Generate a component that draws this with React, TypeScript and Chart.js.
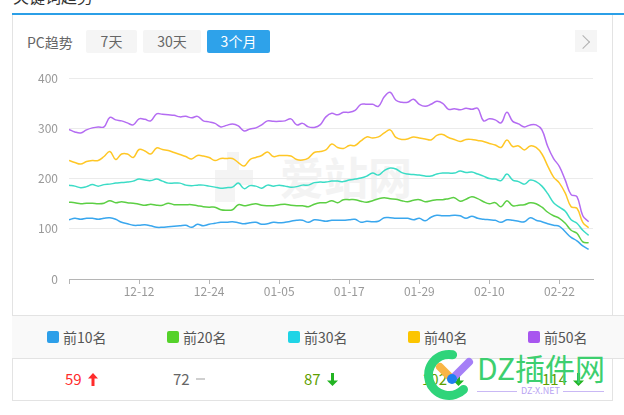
import React, { useEffect, useRef } from 'react';
import { Chart, registerables } from 'chart.js';

Chart.register(...registerables);

const FONT = '"Noto Sans CJK SC", "Noto Sans", sans-serif';

// 90 daily points, 11-30 .. 02-27
const startDate = new Date(2019, 10, 30);
const dates: string[] = [];
for (let i = 0; i < 90; i++) {
  const d = new Date(startDate.getTime());
  d.setDate(d.getDate() + i);
  dates.push(String(d.getMonth() + 1).padStart(2, '0') + '-' + String(d.getDate()).padStart(2, '0'));
}
const tickDates = ['11-30', '12-12', '12-24', '01-05', '01-17', '01-29', '02-10', '02-22'];

const seriesNames = ['前10名', '前20名', '前30名', '前40名', '前50名'];
const legendColors = ['#2d9fe9', '#55d22b', '#1fd4e6', '#fcc500', '#a856ef'];
const lineColors = ['#3aa7ee', '#5ccf44', '#3bdcc6', '#ffc726', '#b46cf2'];

const top10 = [
  118, 121, 119, 121, 121, 119, 121, 122, 119, 113, 110, 107, 107, 108, 106, 103, 103, 104, 105, 106, 107, 103, 109, 106, 109, 111, 113, 113, 114, 112,
  110, 112, 113, 109, 110, 113, 112, 113, 115, 117, 117, 113, 118, 117, 115, 117, 117, 117, 118, 119, 113, 115, 114, 115, 122, 122, 121, 121, 121, 118,
  121, 116, 123, 127, 126, 126, 127, 126, 121, 125, 121, 119, 118, 117, 113, 118, 117, 115, 114, 122, 117, 114, 110, 107, 105, 94, 83, 76, 66, 59,
];
const top20 = [
  153, 152, 150, 151, 151, 150, 151, 156, 152, 154, 152, 151, 149, 147, 149, 147, 147, 151, 148, 148, 148, 148, 146, 144, 143, 143, 138, 137, 138, 148,
  146, 148, 150, 147, 146, 146, 148, 149, 147, 146, 146, 144, 149, 152, 152, 156, 152, 158, 158, 158, 155, 153, 156, 160, 162, 160, 159, 156, 154, 157,
  158, 154, 156, 158, 158, 160, 162, 155, 159, 164, 160, 154, 150, 152, 144, 156, 146, 147, 148, 152, 150, 143, 133, 126, 121, 111, 97, 91, 74, 72,
];
const top30 = [
  187, 185, 182, 184, 188, 185, 188, 189, 191, 192, 193, 195, 199, 197, 196, 199, 195, 191, 191, 191, 187, 186, 187, 187, 185, 183, 181, 182, 183, 191,
  180, 186, 185, 181, 187, 185, 187, 185, 183, 184, 187, 187, 192, 193, 193, 195, 195, 194, 197, 199, 201, 205, 211, 207, 216, 221, 219, 212, 209, 208,
  207, 205, 205, 209, 211, 211, 211, 215, 212, 213, 209, 205, 200, 199, 196, 209, 197, 194, 189, 197, 194, 185, 170, 152, 143, 135, 118, 111, 97, 87,
];
const top40 = [
  236, 232, 229, 234, 236, 236, 244, 254, 238, 249, 249, 242, 258, 255, 249, 261, 258, 256, 252, 248, 244, 239, 246, 245, 242, 236, 240, 240, 240, 232,
  225, 238, 242, 246, 253, 244, 246, 246, 245, 238, 237, 241, 252, 254, 257, 269, 262, 260, 266, 266, 275, 283, 281, 283, 291, 297, 282, 278, 279, 283,
  281, 279, 277, 286, 288, 282, 278, 274, 278, 278, 276, 274, 270, 267, 262, 277, 264, 265, 257, 265, 262, 249, 225, 203, 191, 171, 144, 141, 113, 102,
];
const top50 = [
  298, 293, 291, 297, 301, 303, 303, 322, 317, 315, 311, 307, 319, 318, 315, 329, 328, 327, 326, 323, 324, 321, 324, 315, 313, 310, 303, 306, 309, 305,
  295, 299, 301, 307, 315, 314, 314, 315, 319, 307, 310, 303, 302, 307, 323, 330, 327, 332, 332, 336, 348, 348, 348, 344, 363, 372, 356, 352, 352, 358,
  348, 344, 348, 354, 350, 338, 339, 337, 340, 338, 340, 315, 319, 317, 311, 332, 314, 309, 303, 307, 307, 297, 264, 240, 224, 197, 168, 164, 126, 114,
];
const allSeries = [top10, top20, top30, top40, top50];

// bottom summary row
const summaryValues = ['59', '72', '87', '102', '114'];
const summaryTrend = ['up', 'flat', 'down', 'down', 'down'];

const UpArrow = ({ color }: { color: string }) => (
  <svg width="10" height="13" viewBox="0 0 10 13" style={{ display: 'block' }}>
    <path d="M5 0 L10 5.5 L6.5 5.5 L6.5 13 L3.5 13 L3.5 5.5 L0 5.5 Z" fill={color} />
  </svg>
);
const DownArrow = ({ color }: { color: string }) => (
  <svg width="11" height="13" viewBox="0 0 11 13" style={{ display: 'block' }}>
    <path d="M5.5 13 L11 7.5 L7 7.5 L7 0 L4 0 L4 7.5 L0 7.5 Z" fill={color} />
  </svg>
);

export default function App() {
  const canvasRef = useRef<HTMLCanvasElement | null>(null);

  useEffect(() => {
    document.body.style.margin = '0';
    const ctx = canvasRef.current;
    if (!ctx) return;
    const chart = new Chart(ctx, {
      type: 'line',
      data: {
        datasets: allSeries.map((s, k) => ({
          label: seriesNames[k],
          data: s.map((v, i) => ({ x: i, y: v })),
          borderColor: lineColors[k],
          backgroundColor: lineColors[k],
          borderWidth: 1.5,
          pointRadius: 0,
          tension: 0.4,
          fill: false,
        })),
      },
      options: {
        animation: false,
        responsive: false,
        maintainAspectRatio: false,
        layout: { padding: { top: 17, right: 7, bottom: 0, left: 0 } },
        plugins: { legend: { display: false }, tooltip: { enabled: false } },
        scales: {
          x: {
            type: 'linear',
            min: 0,
            max: 89.75,
            afterBuildTicks: (s: any) => {
              s.ticks = tickDates.map((t) => ({ value: dates.indexOf(t) }));
            },
            afterFit: (s: any) => {
              s.height = 21;
            },
            grid: { drawOnChartArea: false, drawTicks: true, tickLength: 5, color: '#b5b5b5' },
            border: { color: '#b5b5b5' },
            ticks: {
              autoSkip: false,
              maxRotation: 0,
              padding: 0,
              color: '#999',
              font: { size: 12, family: FONT },
              callback: (v: any) => (v === 0 ? '' : dates[v]),
            },
          },
          y: {
            min: 0,
            max: 400,
            afterFit: (s: any) => {
              s.width = 49;
            },
            ticks: { stepSize: 100, padding: 11, color: '#999', font: { size: 12, family: FONT } },
            grid: {
              drawTicks: false,
              color: (c: any) => (c.tick && c.tick.value === 0 ? 'rgba(0,0,0,0)' : '#ebebeb'),
            },
            border: { display: false },
          },
        },
      },
    } as any);
    return () => chart.destroy();
  }, []);

  const abs = (s: React.CSSProperties): React.CSSProperties => ({ position: 'absolute', ...s });

  const legendX = [47, 167, 288, 408, 528];
  const valueX = [65, 173, 304, 422, 542];

  return (
    <div style={abs({ left: 0, top: 0, width: 624, height: 415, background: '#fff', overflow: 'hidden', fontFamily: FONT })}>
      {/* clipped section title */}
      <div style={abs({ left: 13, top: -13, fontSize: 16, lineHeight: '18px', color: '#333', whiteSpace: 'nowrap' })}>关键词趋势</div>
      {/* blue top rule */}
      <div style={abs({ left: 12, top: 13, width: 612, height: 2, background: '#2b9fe7' })} />
      {/* box borders */}
      <div style={abs({ left: 12, top: 15, width: 1, height: 386, background: '#e3e3e3' })} />
      <div style={abs({ left: 612, top: 15, width: 1, height: 386, background: '#e3e3e3' })} />
      <div style={abs({ left: 12, top: 400, width: 601, height: 1, background: '#e3e3e3' })} />

      {/* toolbar */}
      <div style={abs({ left: 27, top: 32, fontSize: 14, lineHeight: '20px', color: '#666' })}>PC趋势</div>
      <div style={abs({ left: 86, top: 30, width: 51, height: 23, lineHeight: '23px', textAlign: 'center', fontSize: 14, color: '#666', background: '#f5f5f5', borderRadius: 2 })}>7天</div>
      <div style={abs({ left: 143, top: 30, width: 58, height: 23, lineHeight: '23px', textAlign: 'center', fontSize: 14, color: '#666', background: '#f5f5f5', borderRadius: 2 })}>30天</div>
      <div style={abs({ left: 207, top: 30, width: 63, height: 23, lineHeight: '23px', textAlign: 'center', fontSize: 14, color: '#fff', background: '#2ea2ea', borderRadius: 2 })}>3个月</div>
      <div style={abs({ left: 575, top: 30, width: 22, height: 22, background: '#f5f5f5' })} />
      <div style={abs({ left: 578, top: 37, width: 9, height: 9, borderTop: '1px solid #b0b0b0', borderRight: '1px solid #b0b0b0', transform: 'rotate(45deg)' })} />

      {/* faint site watermark in plot */}
      <svg style={abs({ left: 205, top: 140 })} width="70" height="70">
        <path d="M10 62 L10 30 L22 30 L22 12 L34 12 L34 30 L48 30 L48 45 L30 45 L30 62 Z" fill="#f4f4f4" />
      </svg>
      <div style={abs({ left: 280, top: 150, fontSize: 44, lineHeight: '52px', color: '#f3f3f3', fontWeight: 700, whiteSpace: 'nowrap' })}>爱站网</div>

      <canvas ref={canvasRef} width={580} height={240} style={abs({ left: 20, top: 60, width: 580, height: 240 })} />

      {/* legend header row */}
      <div style={abs({ left: 12, top: 315, width: 612, height: 42, background: '#f9f9f9', borderTop: '1px solid #e3e3e3', borderBottom: '1px solid #e3e3e3' })} />
      {seriesNames.map((n, k) => (
        <React.Fragment key={n}>
          <div style={abs({ left: legendX[k], top: 331, width: 12, height: 12, borderRadius: 2, background: legendColors[k] })} />
          <div style={abs({ left: legendX[k] + 16, top: 327, fontSize: 14, lineHeight: '20px', color: '#555', whiteSpace: 'nowrap' })}>{n}</div>
        </React.Fragment>
      ))}

      {/* values row */}
      {summaryValues.map((v, k) => {
        const trend = summaryTrend[k];
        const color = trend === 'up' ? '#ff2b2b' : trend === 'flat' ? '#666' : '#5e9f00';
        return (
          <div key={v} style={abs({ left: valueX[k], top: 369, height: 20, display: 'flex', alignItems: 'center', gap: 6, fontSize: 15, lineHeight: '20px', color })}>
            <span>{v}</span>
            {trend === 'up' && <UpArrow color="#ff2b2b" />}
            {trend === 'down' && <DownArrow color="#22b422" />}
            {trend === 'flat' && <div style={{ width: 9, height: 2, background: '#cfcfcf' }} />}
          </div>
        );
      })}

      {/* DZ watermark */}
      <svg style={abs({ left: 418, top: 344 })} width="62" height="62">
        <path d="M 34.6 10.8 A 20.5 20.5 0 1 0 45.5 45.5" fill="none" stroke="#2fd47a" strokeWidth="9" strokeLinecap="round" />
        <line x1="22" y1="23" x2="34" y2="35" stroke="#f9b545" strokeWidth="8" strokeLinecap="round" />
        <line x1="34" y1="35" x2="51" y2="18" stroke="#a57ff7" strokeWidth="8" strokeLinecap="round" />
        <circle cx="34" cy="35" r="5" fill="#1f7ff0" />
      </svg>
      <div style={abs({ left: 477, top: 348, fontSize: 30, lineHeight: '38px', color: '#3dcf6f', whiteSpace: 'nowrap' })}>DZ插件网</div>
      <div style={abs({ left: 477, top: 391, width: 40, height: 1, background: '#c9b8f5' })} />
      <div style={abs({ left: 563, top: 391, width: 41, height: 1, background: '#c9b8f5' })} />
      <div style={abs({ left: 519, top: 385, width: 43, fontSize: 9, lineHeight: '12px', color: '#b8a2f2', textAlign: 'center', whiteSpace: 'nowrap' })}>DZ-X.NET</div>
    </div>
  );
}
